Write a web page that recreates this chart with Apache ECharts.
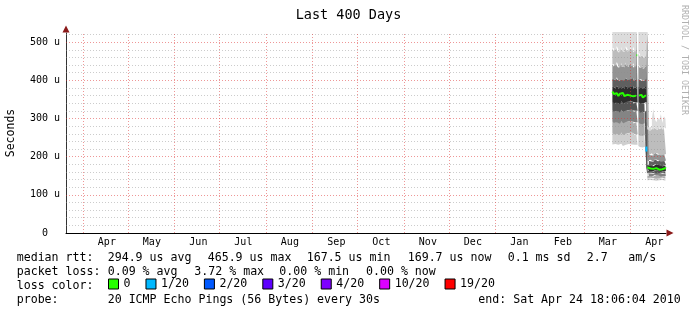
<!DOCTYPE html>
<html><head><meta charset="utf-8">
<script src="https://cdn.jsdelivr.net/npm/echarts@6/dist/echarts.min.js"></script>
<style>html,body{margin:0;padding:0;background:#fff}#c{width:697px;height:316px}</style>
</head><body><div id="c"></div>
<script>
// ---------- data ----------
const times = [
 '2010-03-20T00:00:00Z','2010-03-21T00:00:00Z','2010-03-22T00:00:00Z','2010-03-23T00:00:00Z',
 '2010-03-24T00:00:00Z','2010-03-25T00:00:00Z','2010-03-26T00:00:00Z','2010-03-27T00:00:00Z',
 '2010-03-28T00:00:00Z','2010-03-29T00:00:00Z','2010-03-30T00:00:00Z','2010-03-31T00:00:00Z',
 '2010-04-01T00:00:00Z','2010-04-02T00:00:00Z','2010-04-03T00:00:00Z','2010-04-04T00:00:00Z',
 '2010-04-05T00:00:00Z','2010-04-05T16:00:00Z','2010-04-05T20:00:00Z',
 '2010-04-06T08:00:00Z','2010-04-07T08:00:00Z','2010-04-08T08:00:00Z','2010-04-09T08:00:00Z',
 '2010-04-10T08:00:00Z','2010-04-11T08:00:00Z','2010-04-11T16:00:00Z',
 '2010-04-12T08:00:00Z','2010-04-13T08:00:00Z','2010-04-14T08:00:00Z','2010-04-15T08:00:00Z',
 '2010-04-16T08:00:00Z','2010-04-17T08:00:00Z','2010-04-18T08:00:00Z','2010-04-19T08:00:00Z',
 '2010-04-20T08:00:00Z','2010-04-21T08:00:00Z','2010-04-22T08:00:00Z','2010-04-23T08:00:00Z',
 '2010-04-24T08:00:00Z','2010-04-24T18:06:04Z'
];
// smoke band boundaries (microseconds), bottom -> top
const smokeB0 = [232,230,233,229,231,234,230,228,232,231,229,233,230,232,229,231, 231,231, null, 228,225,227,224,226,228, 168, 138,137,139,136,138,140,137,139,138,136,139,137,138,138];
const smokeB1 = [262,258,265,260,257,263,259,256,264,261,258,262,260,263,257,259, 259,259, null, 258,255,257,254,256,258, 169, 144,143,145,142,144,146,143,145,144,142,145,143,144,144];
const smokeB2 = [292,288,295,290,286,293,289,287,294,291,288,292,290,293,287,290, 290,290, null, 290,286,289,285,287,290, 170, 150,149,151,148,150,152,149,151,150,148,151,149,150,150];
const smokeB3 = [322,318,325,320,316,323,319,317,324,321,318,322,320,323,317,320, 320,320, null, 320,316,319,315,318,320, 171, 157,156,158,155,157,158,156,158,157,155,158,156,157,157];
const smokeB4 = [344,340,346,342,338,345,341,339,346,343,340,344,342,345,339,342, 342,342, null, 343,340,342,339,341,343, 172, 163,162,164,161,163,164,162,164,163,161,164,162,163,163];
const smokeB5 = [384,380,386,382,378,385,381,379,386,383,380,384,382,385,379,382, 530,530, null, 384,380,383,379,382,384, 530, 178,176,179,175,178,180,176,179,177,175,179,176,178,178];
const smokeB6 = [405,400,408,402,398,406,401,399,407,403,400,405,402,406,399,402, 530,530, null, 404,399,402,398,401,404, 530, 190,188,192,187,190,193,188,191,189,187,192,188,190,190];
const smokeB7 = [442,436,448,438,432,446,437,434,447,440,435,443,438,445,433,440, 530,530, null, 440,432,436,430,434,440, 530, 207,204,209,203,206,210,205,208,206,203,209,205,207,207];
const smokeB8 = [484,476,490,480,472,488,478,474,489,482,475,485,479,487,473,481, 530,530, null, 470,462,466,458,464,470, 530, 272,268,276,270,280,274,270,278,272,276,270,278,274,274];
const smokeB9 = [530,530,530,530,530,530,530,530,530,530,530,530,530,530,530,530, 530,530, null, 530,530,530,530,530,530, 530, 282,276,279,300,325,298,290,302,296,312,288,306,300,300];
const bandColors = ['#cfcfcf','#acacac','#848484','#555555','#2d2d2d','#5f5f5f','#939393','#bdbdbd','#dcdcdc'];

// median rtt (0 loss)
const medTimes = [
 '2010-03-20T00:00:00Z','2010-03-21T00:00:00Z','2010-03-22T00:00:00Z','2010-03-23T00:00:00Z','2010-03-24T00:00:00Z',
 '2010-03-25T00:00:00Z','2010-03-26T00:00:00Z','2010-03-27T00:00:00Z','2010-03-28T00:00:00Z','2010-03-29T00:00:00Z',
 '2010-03-30T00:00:00Z','2010-03-31T00:00:00Z','2010-04-01T00:00:00Z','2010-04-02T00:00:00Z','2010-04-03T00:00:00Z',
 '2010-04-04T00:00:00Z','2010-04-04T20:00:00Z','2010-04-04T22:00:00Z',
 '2010-04-05T00:00:00Z','2010-04-05T14:00:00Z','2010-04-05T18:00:00Z',
 '2010-04-05T22:00:00Z','2010-04-06T08:00:00Z','2010-04-06T10:00:00Z',
 '2010-04-06T16:00:00Z','2010-04-07T08:00:00Z','2010-04-08T08:00:00Z','2010-04-09T08:00:00Z','2010-04-10T08:00:00Z',
 '2010-04-11T08:00:00Z','2010-04-11T14:00:00Z','2010-04-11T18:00:00Z',
 '2010-04-12T08:00:00Z','2010-04-13T08:00:00Z','2010-04-14T08:00:00Z','2010-04-15T08:00:00Z','2010-04-16T08:00:00Z',
 '2010-04-17T08:00:00Z','2010-04-18T08:00:00Z','2010-04-19T08:00:00Z','2010-04-20T08:00:00Z','2010-04-21T08:00:00Z',
 '2010-04-22T08:00:00Z','2010-04-23T08:00:00Z','2010-04-24T08:00:00Z','2010-04-24T18:00:00Z'
];
const medVals = [
 371,364,360,366,359, 365,361,367,359,364, 362,366,360,363,358, 362,360,null,
 466,466,null,
 391,391,null,
 360,357,362,355,358, 361,360,null,
 172,167,169,166,168, 167,170,168,166,169, 167,168,170,169
];
// median points with 1/20 loss
const loss1Times = ['2010-04-11T16:00:00Z'];
const loss1Vals = [220];

const lossNames = ['0','1/20','2/20','3/20','4/20','10/20','19/20'];
const lossColors = ['#26ff00','#00b8ff','#0059ff','#5e00ff','#7e00ff','#dd00ff','#ff0000'];

const monthStarts = ['2009-04-01','2009-05-01','2009-06-01','2009-07-01','2009-08-01','2009-09-01','2009-10-01',
 '2009-11-01','2009-12-01','2010-01-01','2010-02-01','2010-03-01','2010-04-01'];
const monthLabelDates = ['2009-04-17','2009-05-17','2009-06-17','2009-07-17','2009-08-17','2009-09-17','2009-10-17',
 '2009-11-17','2009-12-17','2010-01-17','2010-02-15','2010-03-17','2010-04-17'];
const monthLabels = ['Apr','May','Jun','Jul','Aug','Sep','Oct','Nov','Dec','Jan','Feb','Mar','Apr'];
const yMajor = [100,200,300,400,500];
const yMinor = [20,40,60,80,120,140,160,180,220,240,260,280,320,340,360,380,420,440,460,480,520];

const titleText = 'Last 400 Days';
const axisName = 'Seconds';
const rttLabel = 'median rtt:';
const rttStats = ['294.9 us avg','465.9 us max','167.5 us min','169.7 us now','0.1 ms sd','2.7','am/s'];
const lossLabel = 'packet loss:';
const lossStats = ['0.09 % avg','3.72 % max','0.00 % min','0.00 % now'];
const colorLabel = 'loss color:';
const probeLabel = 'probe:';
const probeText = '20 ICMP Echo Pings (56 Bytes) every 30s';
const endText = 'end: Sat Apr 24 18:06:04 2010';
const watermark = 'RRDTOOL / TOBI OETIKER';
const startTime = '2009-03-20T18:06:04Z';
const endTime = '2010-04-24T18:06:04Z';

// ---------- chart ----------
const FONT = '"DejaVu Sans Mono", monospace';
const T = s => Date.parse(s.length === 10 ? s + 'T00:00:00Z' : s);
const bounds = [smokeB0,smokeB1,smokeB2,smokeB3,smokeB4,smokeB5,smokeB6,smokeB7,smokeB8,smokeB9];
const series = [];
series.push({
  type:'line', stack:'smoke', step:'end', symbol:'none', silent:true, z:2,
  lineStyle:{opacity:0},
  data: times.map((t,i)=>[T(t), smokeB0[i]==null?'-':smokeB0[i]])
});
for (let k=1;k<bounds.length;k++){
  series.push({
    type:'line', stack:'smoke', step:'end', symbol:'none', silent:true, z:2,
    lineStyle:{opacity:0},
    areaStyle:{color:bandColors[k-1], opacity:1},
    data: times.map((t,i)=>[T(t), bounds[k][i]==null?'-':bounds[k][i]-bounds[k-1][i]])
  });
}
const major = {color:'rgba(222,48,48,0.5)', type:[1,2], width:1};
const minor = {color:'rgba(143,143,143,0.45)', type:[1,2], width:1};
series.push({
  type:'line', data:[], silent:true, z:3,
  markLine:{
    silent:true, symbol:['none','none'], label:{show:false}, animation:false,
    data:[
      ...yMinor.map(v=>({yAxis:v, lineStyle:minor})),
      ...yMajor.map(v=>({yAxis:v, lineStyle:major})),
      ...monthStarts.map(d=>({xAxis:T(d), lineStyle:major}))
    ]
  }
});
series.push({
  name:lossNames[0], type:'line', z:5, symbol:'none', connectNulls:false,
  lineStyle:{color:lossColors[0], width:2}, itemStyle:{color:lossColors[0]},
  data: medTimes.map((t,i)=>[T(t), medVals[i]==null?'-':medVals[i]])
});
for (let i=1;i<lossNames.length;i++){
  series.push({
    name:lossNames[i], type:'line', z:6, showSymbol:true, symbol:'rect', symbolSize:[2,5],
    lineStyle:{color:lossColors[i]}, itemStyle:{color:lossColors[i]},
    data: i===1 ? loss1Times.map((t,j)=>[T(t), loss1Vals[j]]) : []
  });
}

const labelTimes = monthLabelDates.map(T);
const txt = (text, x, y, size) => ({type:'text', x, y, silent:true,
  style:{text, fill:'#000', font:`${size||11.6}px ${FONT}`, textVerticalAlign:'middle', textAlign:'left'}});
const rttX = [107.7,207.7,306.7,407.7,507.7,586.7,628.3];
const lossX = [107.7,194.3,279.3,366];
const graphic = [
  txt(rttLabel,16.7,258), ...rttStats.map((s,i)=>txt(s,rttX[i],258)),
  txt(lossLabel,16.7,272), ...lossStats.map((s,i)=>txt(s,lossX[i],272)),
  txt(colorLabel,16.7,286),
  txt(probeLabel,16.7,300), txt(probeText,107.7,300), txt(endText,478.3,300),
  {type:'text', x:684, y:5, rotation:-Math.PI/2, silent:true,
   style:{text:watermark, fill:'#b0b0b0', font:`8.3px ${FONT}`, textAlign:'left', textVerticalAlign:'middle'}}
];

const chart = echarts.init(document.getElementById('c'), null, {renderer:'canvas'});
chart.setOption({
  animation:false,
  backgroundColor:'#ffffff',
  title:{text:titleText, left:'center', top:3, textStyle:{fontFamily:FONT, fontSize:13.5, fontWeight:'normal', color:'#000'}},
  grid:{left:66, top:33, width:600, height:200, containLabel:false, outerBoundsMode:'none'},
  xAxis:[{
    type:'time', min:T(startTime), max:T(endTime),
    axisLine:{show:true, lineStyle:{color:'#000', width:1}},
    axisTick:{show:false}, splitLine:{show:false}, axisLabel:{show:false}
  },{
    type:'value', min:T(startTime), max:T(endTime), position:'bottom',
    axisLine:{show:true, symbol:['none','triangle'], symbolSize:[7,7], symbolOffset:[0,4], lineStyle:{color:'#8b1a1a', width:0}},
    axisTick:{show:false}, splitLine:{show:false},
    axisLabel:{customValues:labelTimes, margin:4, fontFamily:FONT, fontSize:10, color:'#000',
      formatter:(v)=>{const j=labelTimes.indexOf(v); return j>=0?monthLabels[j]:'';}}
  }],
  yAxis:[{
    type:'value', min:0, max:524, interval:100,
    name:axisName, nameLocation:'middle', nameRotate:90, nameGap:49,
    nameTextStyle:{fontFamily:FONT, fontSize:11.5, color:'#000'},
    axisLine:{show:true, lineStyle:{color:'#333', width:1}},
    axisTick:{show:false}, splitLine:{show:false},
    axisLabel:{margin:6, fontFamily:FONT, fontSize:10, color:'#000',
      formatter:v=> v===0 ? '0  ' : (v%100===0 ? v+' u' : '')}
  },{
    type:'value', min:0, max:524, position:'left',
    axisLine:{show:true, symbol:['none','triangle'], symbolSize:[7,7], symbolOffset:[0,4], lineStyle:{color:'#8b1a1a', width:0}},
    axisTick:{show:false}, axisLabel:{show:false}, splitLine:{show:false}
  }],
  legend:{
    left:108, top:278, padding:0, itemWidth:10, itemHeight:10, itemGap:15, icon:'rect', selectedMode:false,
    textStyle:{fontFamily:FONT, fontSize:11.6, color:'#000'},
    data: lossNames.map((n,i)=>({name:n, icon:'rect', itemStyle:{color:lossColors[i], borderColor:'#000', borderWidth:1}}))
  },
  graphic,
  series
});
</script></body></html>
